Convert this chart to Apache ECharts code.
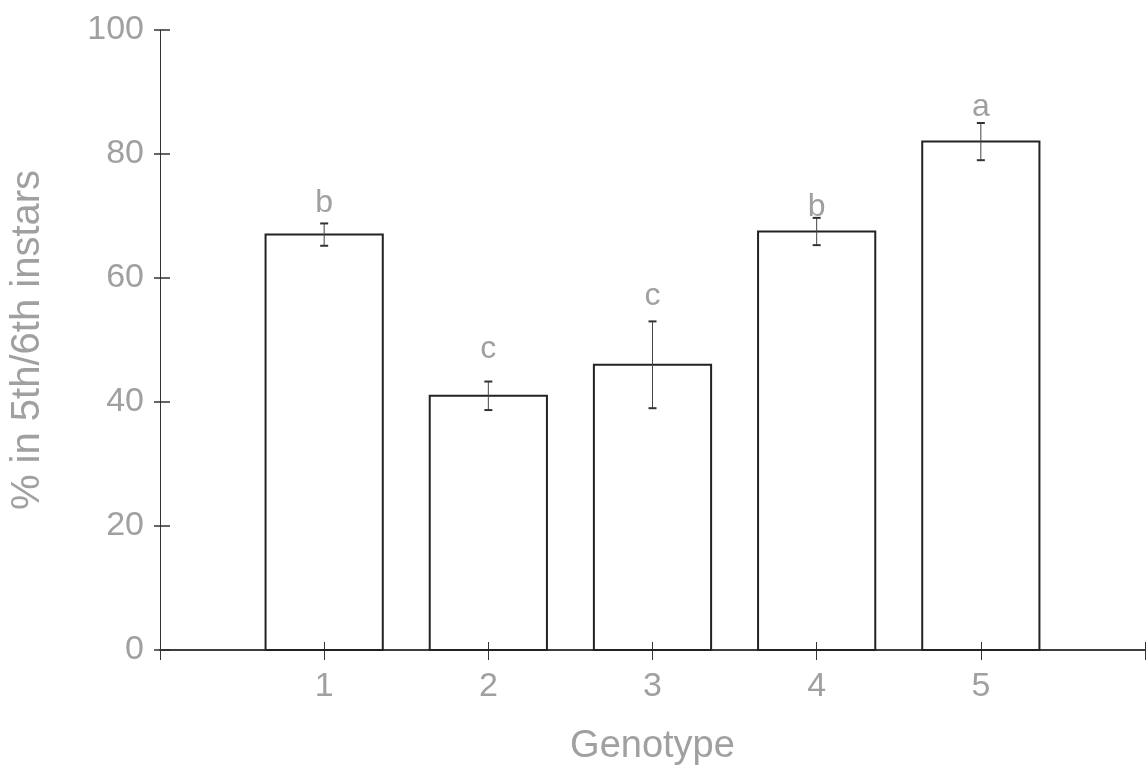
<!DOCTYPE html>
<html><head><meta charset="utf-8">
<script src="https://cdn.jsdelivr.net/npm/echarts@6/dist/echarts.min.js"></script>
<style>html,body{margin:0;padding:0;background:#fff}#c{width:1148px;height:765px}</style>
</head><body><div id="c"></div>
<script>
const genotypes = [1, 2, 3, 4, 5];
const means = [67, 41, 46, 67.5, 82];
const errors = [1.8, 2.3, 7, 2.2, 3];
const letters = ['b', 'c', 'c', 'b', 'a'];
const letterValues = [72, 48.5, 57, 71.5, 87.5];
const yTicks = [0, 20, 40, 60, 80, 100];
const xTickLabels = ['1', '2', '3', '4', '5'];

const chart = echarts.init(document.getElementById('c'));
const txt = '#a0a0a0';
const lineC = '#333';
const halfW = 0.357;
const FONT = 'Liberation Sans';

const barData = genotypes.map((g, i) => [g, means[i]]);
const errData = genotypes.map((g, i) => [g, means[i] - errors[i], means[i] + errors[i]]);
const letterData = genotypes.map((g, i) => [g, letterValues[i], letters[i]]);

chart.setOption({
  animation: false,
  grid: { left: 160, right: 3, top: 30, bottom: 115, containLabel: false, outerBoundsMode: 'none' },
  xAxis: [{
    type: 'value', min: 0, max: 6, interval: 1,
    axisLine: { lineStyle: { color: lineC, width: 1.5 } },
    axisTick: { show: true, length: 10, lineStyle: { color: lineC } },
    splitLine: { show: false },
    axisLabel: {
      color: txt, fontSize: 34, margin: 20, fontFamily: FONT,
      formatter: v => (v >= 1 && v <= 5) ? xTickLabels[v - 1] : ''
    },
    name: 'Genotype', nameLocation: 'middle', nameGap: 78,
    nameTextStyle: { color: txt, fontSize: 38, fontFamily: FONT }
  }, {
    type: 'value', min: 0, max: 6, interval: 1, position: 'top',
    axisLine: { show: true, lineStyle: { color: lineC, width: 1.5 } },
    axisTick: { show: false }, axisLabel: { show: false }, splitLine: { show: false }
  }, {
    type: 'value', min: 0, max: 6, interval: 1, position: 'bottom', offset: 0,
    axisLine: { show: false },
    axisTick: { show: true, inside: true, length: 8, lineStyle: { color: lineC } },
    axisLabel: { show: false }, splitLine: { show: false }
  }],
  yAxis: [{
    type: 'value', min: 0, max: 100, interval: 20,
    axisLine: { show: true, lineStyle: { color: lineC, width: 1 } },
    axisTick: { show: true, length: 6, lineStyle: { color: lineC, width: 1.5 } },
    splitLine: { show: false },
    axisLabel: { color: txt, fontSize: 34, margin: 16, fontFamily: FONT,
      formatter: v => yTicks.includes(v) ? String(v) : '' },
    name: '% in 5th/6th instars', nameLocation: 'middle', nameGap: 112, nameRotate: 90,
    nameTextStyle: { color: txt, fontSize: 40, fontFamily: FONT }
  }, {
    type: 'value', min: 0, max: 100, interval: 20, position: 'left', offset: 0,
    axisLine: { show: false },
    axisTick: { show: true, inside: true, length: 10, lineStyle: { color: lineC, width: 1.5 } },
    axisLabel: { show: false }, splitLine: { show: false }
  }],
  series: [{
    type: 'custom', xAxisIndex: 0, yAxisIndex: 0,
    data: barData,
    renderItem: (params, api) => {
      const x = api.value(0), y = api.value(1);
      const p0 = api.coord([x - halfW, y]);
      const p1 = api.coord([x + halfW, 0]);
      return { type: 'rect', shape: { x: p0[0], y: p0[1], width: p1[0] - p0[0], height: p1[1] - p0[1] },
        style: { fill: 'none', stroke: '#222', lineWidth: 2 } };
    }
  }, {
    type: 'custom', xAxisIndex: 0, yAxisIndex: 0, z: 5,
    data: errData,
    renderItem: (params, api) => {
      const x = api.value(0);
      const lo = api.coord([x, api.value(1)]);
      const hi = api.coord([x, api.value(2)]);
      const cw = 4;
      const st = { stroke: '#444', lineWidth: 1 };
      return { type: 'group', children: [
        { type: 'line', shape: { x1: lo[0], y1: lo[1], x2: hi[0], y2: hi[1] }, style: st },
        { type: 'line', shape: { x1: lo[0] - cw, y1: lo[1], x2: lo[0] + cw, y2: lo[1] }, style: { stroke: '#333', lineWidth: 2 } },
        { type: 'line', shape: { x1: hi[0] - cw, y1: hi[1], x2: hi[0] + cw, y2: hi[1] }, style: { stroke: '#333', lineWidth: 2 } }
      ] };
    }
  }, {
    type: 'custom', xAxisIndex: 0, yAxisIndex: 0, z: 6,
    data: letterData,
    renderItem: (params, api) => {
      const p = api.coord([api.value(0), api.value(1)]);
      return { type: 'text', x: p[0], y: p[1],
        style: { text: letters[params.dataIndex], fill: txt, fontSize: 32, fontFamily: FONT,
          align: 'center', verticalAlign: 'middle' } };
    }
  }]
});
</script>
</body></html>
